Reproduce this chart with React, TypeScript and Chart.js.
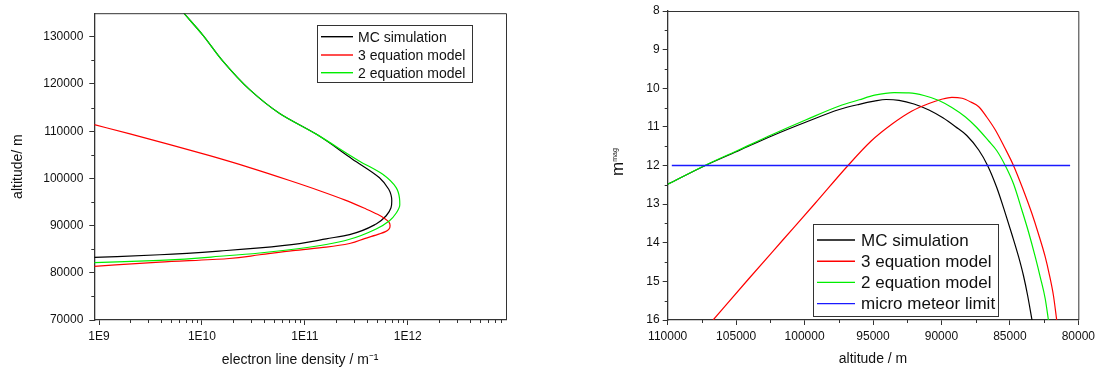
import React, { useEffect, useRef } from "react";
import { Chart, registerables } from "chart.js";

Chart.register(...registerables);

const FONT = "'Liberation Sans', Arial, Helvetica, sans-serif";

// ---------- Left chart: electron line density vs altitude ----------
const mcAltitude = [83250, 83820, 84720, 85290, 86200, 87190, 88090, 90340, 92090, 93770, 95240, 96500, 97700, 100140, 104080, 109330, 113750, 118800, 124900, 130370, 135000];
const mcDensity = [9.0e8, 3.9e9, 1.73e10, 3.64e10, 8.9e10, 1.61e11, 2.72e11, 4.93e11, 6.17e11, 6.87e11, 6.99e11, 6.87e11, 6.53e11, 5.31e11, 2.9e11, 1.3e11, 5.69e10, 2.91e10, 1.59e10, 1.02e10, 6.67e9];

const eq3Altitude = [81360, 82260, 82980, 83820, 84700, 85420, 86200, 87250, 88240, 88720, 89250, 89980, 90720, 91460, 92400, 93660, 95450, 97390, 99550, 102290, 104810, 107170, 109440, 111380];
const eq3Density = [9.0e8, 3.9e9, 1.73e10, 3.64e10, 7.66e10, 1.61e11, 2.72e11, 3.8e11, 5.31e11, 6.07e11, 6.56e11, 6.73e11, 6.56e11, 6.0e11, 5.08e11, 3.8e11, 2.43e11, 1.39e11, 7.11e10, 2.91e10, 1.19e10, 4.88e9, 2.0e9, 9.0e8];

const eq2Altitude = [82140, 82620, 83610, 84200, 85150, 85990, 87100, 89290, 91035, 92720, 94400, 95870, 98040, 100860, 103650, 109330, 113750, 118800, 124900, 130370, 135000];
const eq2Density = [9.0e8, 3.9e9, 1.73e10, 3.64e10, 8.9e10, 1.61e11, 2.72e11, 4.93e11, 6.64e11, 7.76e11, 8.36e11, 8.3e11, 7.71e11, 5.71e11, 3.4e11, 1.3e11, 5.69e10, 2.91e10, 1.59e10, 1.02e10, 6.67e9];

const densityTicks = [1e9, 1e10, 1e11, 1e12];
const densityMinorTicks = [2e9, 3e9, 4e9, 5e9, 6e9, 7e9, 8e9, 9e9, 2e10, 3e10, 4e10, 5e10, 6e10, 7e10, 8e10, 9e10, 2e11, 3e11, 4e11, 5e11, 6e11, 7e11, 8e11, 9e11, 2e12, 3e12, 4e12, 5e12, 6e12, 7e12, 8e12];
const altitudeTicks = [70000, 80000, 90000, 100000, 110000, 120000, 130000];
const altitudeMinorTicks = [75000, 85000, 95000, 105000, 115000, 125000];

// ---------- Right chart: magnitude vs altitude ----------
const magMCAltitude = [110000, 107286, 104739, 102316, 99886, 97463, 96007, 94916, 94043, 93097, 92005, 90914, 89895, 88971, 88149, 87276, 86621, 85966, 85333, 84838, 84365, 84001, 83710, 83383];
const magMC = [12.487, 12.005, 11.604, 11.223, 10.874, 10.55, 10.416, 10.335, 10.291, 10.312, 10.408, 10.563, 10.765, 10.995, 11.223, 11.599, 12.005, 12.564, 13.238, 13.799, 14.361, 14.861, 15.353, 16.0];

const mag3Altitude = [106682, 104157, 101589, 99209, 96859, 95134, 93606, 92151, 90914, 90040, 89240, 88491, 87858, 87276, 86694, 86061, 85384, 84730, 84075, 83397, 82910, 82422, 82110, 81818, 81578];
const mag3 = [16.0, 14.964, 13.929, 12.971, 12.013, 11.366, 10.926, 10.589, 10.395, 10.291, 10.234, 10.26, 10.356, 10.478, 10.744, 11.081, 11.534, 12.005, 12.583, 13.238, 13.773, 14.361, 14.835, 15.366, 16.0];

const mag2Altitude = [110000, 107286, 104739, 102316, 99886, 97463, 96007, 94881, 93461, 92369, 91278, 90186, 89240, 88244, 87421, 86548, 85966, 85333, 84729, 84125, 83638, 83150, 82764, 82422, 82182];
const mag2 = [12.487, 12.0, 11.586, 11.192, 10.817, 10.46, 10.299, 10.18, 10.113, 10.12, 10.188, 10.317, 10.498, 10.744, 11.016, 11.366, 11.612, 12.005, 12.479, 13.152, 13.722, 14.361, 14.913, 15.443, 16.0];

const limitAltitude = [109700, 80600];
const limitMag = [12, 12];

const magTicks = [8, 9, 10, 11, 12, 13, 14, 15, 16];
const magMinorTicks = [8.5, 9.5, 10.5, 11.5, 12.5, 13.5, 14.5, 15.5];
const altTicks = [110000, 105000, 100000, 95000, 90000, 85000, 80000];
const altMinorTicks = [107500, 102500, 97500, 92500, 87500, 82500];

const seriesLabels = ["MC simulation", "3 equation model", "2 equation model", "micro meteor limit"];
const seriesColors = ["#000000", "#ff0000", "#00ee00", "#1a1aff"];

const pts = (xs: number[], ys: number[]) => xs.map((x, i) => ({ x, y: ys[i] }));

const decorPlugin = {
  id: "decor",
  afterDraw(chart: any, _args: any, opts: any) {
    const ctx = chart.ctx;
    const a = chart.chartArea;
    ctx.save();
    ctx.strokeStyle = "#333";
    ctx.lineWidth = 1;
    ctx.beginPath();
    ctx.moveTo(a.left, a.top + 0.5);
    ctx.lineTo(a.right + 0.5, a.top + 0.5);
    ctx.lineTo(a.right + 0.5, a.bottom);
    ctx.stroke();
    const xs = chart.scales.x;
    const ys = chart.scales.y;
    ctx.beginPath();
    for (const v of opts.xMinor || []) {
      const px = Math.round(xs.getPixelForValue(v)) + 0.5;
      ctx.moveTo(px, a.bottom);
      ctx.lineTo(px, a.bottom + 3);
    }
    for (const v of opts.yMinor || []) {
      const py = Math.round(ys.getPixelForValue(v)) + 0.5;
      ctx.moveTo(a.left - 3, py);
      ctx.lineTo(a.left, py);
    }
    ctx.stroke();
    const lg = opts.legend;
    if (lg) {
      ctx.fillStyle = "#ffffff";
      ctx.fillRect(lg.x, lg.y, lg.w, lg.h);
      ctx.strokeStyle = "#333";
      ctx.lineWidth = 1;
      ctx.strokeRect(lg.x + 0.5, lg.y + 0.5, lg.w, lg.h);
      ctx.font = `${lg.fontSize}px ${FONT}`;
      ctx.textBaseline = "middle";
      ctx.textAlign = "left";
      chart.data.datasets.forEach((ds: any, i: number) => {
        const ry = lg.rowY[i];
        ctx.strokeStyle = ds.borderColor;
        ctx.lineWidth = 1.4;
        ctx.beginPath();
        ctx.moveTo(lg.lineX1, ry);
        ctx.lineTo(lg.lineX2, ry);
        ctx.stroke();
        ctx.fillStyle = "#111";
        ctx.fillText(ds.label, lg.textX, ry + 1);
      });
    }
    const st = opts.superTitle;
    if (st) {
      ctx.fillStyle = "#111";
      ctx.textBaseline = "alphabetic";
      ctx.textAlign = "left";
      ctx.font = `${st.size}px ${FONT}`;
      const w1 = ctx.measureText(st.main).width;
      ctx.font = `${st.supSize}px ${FONT}`;
      const w2 = ctx.measureText(st.sup).width;
      const total = w1 + w2;
      ctx.translate(st.x, st.y);
      ctx.rotate(-Math.PI / 2);
      ctx.font = `${st.size}px ${FONT}`;
      ctx.fillText(st.main, -total / 2, 0);
      ctx.font = `${st.supSize}px ${FONT}`;
      ctx.fillText(st.sup, -total / 2 + w1, -st.rise);
    }
    ctx.restore();
  },
};

const setTicks = (values: number[]) => (scale: any) => {
  scale.ticks = values.map((v) => ({ value: v }));
};

const axisCommon = {
  grid: { display: true, drawOnChartArea: false, tickLength: 5, color: "#333", tickColor: "#333", tickWidth: 1 },
  border: { display: true, color: "#333", width: 1.3 },
};

const lineDs = (label: string, color: string, data: any[], order: number, width = 1.2) => ({
  label,
  data,
  borderColor: color,
  backgroundColor: color,
  borderWidth: width,
  pointRadius: 0,
  pointHoverRadius: 0,
  fill: false,
  cubicInterpolationMode: "monotone",
  order,
});

function LeftChart() {
  const ref = useRef<HTMLCanvasElement | null>(null);
  useEffect(() => {
    if (!ref.current) return;
    const chart = new Chart(ref.current, {
      type: "line",
      data: {
        datasets: [
          lineDs(seriesLabels[0], seriesColors[0], pts(mcDensity, mcAltitude), 2),
          lineDs(seriesLabels[1], seriesColors[1], pts(eq3Density, eq3Altitude), 1),
          lineDs(seriesLabels[2], seriesColors[2], pts(eq2Density, eq2Altitude), 0),
        ],
      },
      options: {
        indexAxis: "y",
        responsive: false,
        animation: false,
        devicePixelRatio: 1,
        layout: { padding: { top: 11, right: 43, left: 0, bottom: 0 } },
        plugins: {
          legend: { display: false },
          tooltip: { enabled: false },
          decor: {
            xMinor: densityMinorTicks,
            yMinor: altitudeMinorTicks,
            legend: { x: 317, y: 25, w: 155, h: 57, lineX1: 321, lineX2: 353, textX: 358, rowY: [36.7, 55, 72.7], fontSize: 14 },
          },
        } as any,
        scales: {
          x: {
            type: "logarithmic",
            min: 9e8,
            max: 9e12,
            afterBuildTicks: setTicks(densityTicks),
            afterFit: (s: any) => { s.height = 49; },
            ...axisCommon,
            ticks: { autoSkip: false, maxRotation: 0, padding: 4, color: "#111", font: { family: FONT, size: 12 }, callback: (v: any) => "1E" + Math.round(Math.log10(Number(v))) },
            title: { display: true, text: "electron line density / m⁻¹", color: "#111", font: { family: FONT, size: 14 }, padding: { top: 0, bottom: 0 } },
          },
          y: {
            type: "linear",
            min: 70000,
            max: 135000,
            afterBuildTicks: setTicks(altitudeTicks),
            afterFit: (s: any) => { s.width = 94.3; },
            ...axisCommon,
            ticks: { autoSkip: false, padding: 6, color: "#111", font: { family: FONT, size: 12 }, callback: (v: any) => String(v) },
            title: { display: true, text: "altitude/ m", color: "#111", font: { family: FONT, size: 14 }, padding: { top: 9.6, bottom: 0 } },
          },
        },
      } as any,
      plugins: [decorPlugin as any],
    });
    return () => chart.destroy();
  }, []);
  return <canvas ref={ref} width={549} height={369} style={{ position: "absolute", left: 0, top: 0 }} />;
}

function RightChart() {
  const ref = useRef<HTMLCanvasElement | null>(null);
  useEffect(() => {
    if (!ref.current) return;
    const chart = new Chart(ref.current, {
      type: "line",
      data: {
        datasets: [
          lineDs(seriesLabels[0], seriesColors[0], pts(magMCAltitude, magMC), 3),
          lineDs(seriesLabels[1], seriesColors[1], pts(mag3Altitude, mag3), 2),
          lineDs(seriesLabels[2], seriesColors[2], pts(mag2Altitude, mag2), 1),
          lineDs(seriesLabels[3], seriesColors[3], pts(limitAltitude, limitMag), 0, 1.6),
        ],
      },
      options: {
        indexAxis: "x",
        responsive: false,
        animation: false,
        devicePixelRatio: 1,
        layout: { padding: { top: 11, right: 19, left: 0, bottom: 0 } },
        plugins: {
          legend: { display: false },
          tooltip: { enabled: false },
          decor: {
            xMinor: altMinorTicks,
            yMinor: magMinorTicks,
            legend: { x: 264, y: 224, w: 185, h: 92, lineX1: 268, lineX2: 306, textX: 312, rowY: [240, 261.2, 282.4, 303.6], fontSize: 17 },
            superTitle: { x: 74, y: 162, main: "m", sup: "mag", size: 17, supSize: 7, rise: 6 },
          },
        } as any,
        scales: {
          x: {
            type: "linear",
            reverse: true,
            min: 80000,
            max: 110000,
            afterBuildTicks: setTicks(altTicks),
            afterFit: (s: any) => { s.height = 49; },
            ...axisCommon,
            ticks: { autoSkip: false, maxRotation: 0, padding: 4, color: "#111", font: { family: FONT, size: 12 }, callback: (v: any) => String(v) },
            title: { display: true, text: "altitude / m", color: "#111", font: { family: FONT, size: 14 }, padding: { top: 0, bottom: 1.6 } },
          },
          y: {
            type: "linear",
            reverse: true,
            min: 8,
            max: 16,
            afterBuildTicks: setTicks(magTicks),
            afterFit: (s: any) => { s.width = 118.7; },
            ...axisCommon,
            ticks: { autoSkip: false, padding: 3, color: "#111", font: { family: FONT, size: 12 }, callback: (v: any) => String(v) },
            title: { display: false },
          },
        },
      } as any,
      plugins: [decorPlugin as any],
    });
    return () => chart.destroy();
  }, []);
  return <canvas ref={ref} width={550} height={369} style={{ position: "absolute", left: 549, top: 0 }} />;
}

export default function App() {
  useEffect(() => {
    document.body.style.margin = "0";
  }, []);
  return (
    <div style={{ position: "relative", width: 1099, height: 369, background: "#fff", overflow: "hidden" }}>
      <LeftChart />
      <RightChart />
    </div>
  );
}
